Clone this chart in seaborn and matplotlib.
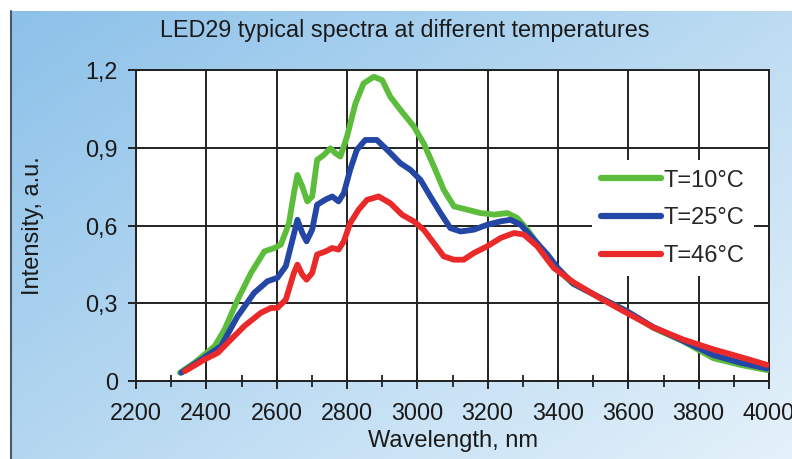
import numpy as np
import pandas as pd
import matplotlib
matplotlib.use("Agg")
import matplotlib.pyplot as plt
import seaborn as sns
from matplotlib.ticker import MultipleLocator, FixedLocator
from matplotlib.lines import Line2D

# ---------------- data ----------------
green_wl = [2325, 2367, 2424, 2452, 2489, 2527, 2565, 2593, 2612, 2635, 2649, 2659, 2673, 2687,
            2701, 2715, 2734, 2753, 2767, 2781, 2800, 2824, 2847, 2876, 2900, 2923, 2952, 2990,
            3018, 3047, 3075, 3104, 3142, 3180, 3218, 3256, 3284, 3313, 3350, 3388, 3443, 3519,
            3595, 3671, 3756, 3842, 3920, 3995]
green_val = [0.032, 0.071, 0.135, 0.199, 0.314, 0.417, 0.50, 0.513, 0.526, 0.609, 0.725, 0.795,
             0.75, 0.693, 0.712, 0.853, 0.872, 0.898, 0.879, 0.866, 0.943, 1.071, 1.148, 1.174,
             1.161, 1.097, 1.046, 0.982, 0.917, 0.828, 0.738, 0.674, 0.661, 0.648, 0.642, 0.648,
             0.629, 0.584, 0.513, 0.443, 0.375, 0.322, 0.27, 0.205, 0.153, 0.088, 0.062, 0.042]

blue_wl = [2329, 2386, 2442, 2489, 2536, 2574, 2602, 2626, 2645, 2659, 2673, 2685, 2701, 2715,
           2739, 2758, 2776, 2791, 2809, 2828, 2852, 2885, 2914, 2952, 2980, 3009, 3037, 3066,
           3094, 3123, 3161, 3199, 3237, 3265, 3294, 3332, 3370, 3400, 3443, 3519, 3595, 3671,
           3756, 3842, 3920, 3995]
blue_val = [0.032, 0.083, 0.135, 0.25, 0.34, 0.385, 0.398, 0.443, 0.545, 0.622, 0.571, 0.539,
            0.584, 0.68, 0.70, 0.712, 0.693, 0.725, 0.815, 0.892, 0.930, 0.930, 0.892, 0.840,
            0.815, 0.776, 0.712, 0.648, 0.590, 0.577, 0.584, 0.603, 0.616, 0.622, 0.603, 0.545,
            0.488, 0.435, 0.376, 0.322, 0.27, 0.208, 0.155, 0.10, 0.07, 0.048]

red_wl = [2339, 2395, 2433, 2461, 2508, 2555, 2584, 2602, 2626, 2649, 2659, 2673, 2685, 2701,
          2715, 2739, 2758, 2776, 2791, 2809, 2833, 2857, 2890, 2923, 2957, 2990, 3018, 3047,
          3075, 3104, 3132, 3161, 3199, 3237, 3275, 3303, 3341, 3388, 3443, 3519, 3595, 3671,
          3756, 3842, 3920, 3995]
red_val = [0.038, 0.083, 0.109, 0.148, 0.212, 0.263, 0.282, 0.282, 0.314, 0.417, 0.449, 0.41,
           0.391, 0.417, 0.488, 0.50, 0.513, 0.507, 0.539, 0.609, 0.661, 0.699, 0.712, 0.686,
           0.641, 0.616, 0.584, 0.532, 0.481, 0.468, 0.468, 0.494, 0.52, 0.552, 0.571, 0.565,
           0.52, 0.436, 0.382, 0.32, 0.263, 0.207, 0.16, 0.122, 0.092, 0.062]

series_labels = ["T=10°C", "T=25°C", "T=46°C"]
series_colors = ["#5cbd3c", "#2447a6", "#ea2a2a"]

x_ticks = [2200, 2400, 2600, 2800, 3000, 3200, 3400, 3600, 3800, 4000]
y_ticks = [0, 0.3, 0.6, 0.9, 1.2]
y_tick_labels = ["0", "0,3", "0,6", "0,9", "1,2"]

title = "LED29 typical spectra at different temperatures"
x_label = "Wavelength, nm"
y_label = "Intensity, a.u."

df = pd.concat([
    pd.DataFrame({"wl": green_wl, "val": green_val, "T": series_labels[0]}),
    pd.DataFrame({"wl": blue_wl, "val": blue_val, "T": series_labels[1]}),
    pd.DataFrame({"wl": red_wl, "val": red_val, "T": series_labels[2]}),
], ignore_index=True)

# ---------------- figure ----------------
sns.set_theme(style="white")
plt.rcParams["font.family"] = ["Liberation Sans", "DejaVu Sans"]

fig = plt.figure(figsize=(7.92, 4.59), dpi=100, facecolor="white")

# background panel with blue gradient
bg = fig.add_axes([10 / 792, 0, 1 - 10 / 792, 1 - 11 / 459], zorder=0)
nx, ny = 200, 120
gx, gy = np.meshgrid(np.linspace(0, 1, nx), np.linspace(0, 1, ny))
t = np.clip(0.55 * gx + 0.45 * gy, 0, 1)
c0 = np.array([0x8c, 0xc1, 0xe9]) / 255
c1 = np.array([0xe4, 0xf1, 0xfa]) / 255
img = c0[None, None, :] * (1 - t[..., None]) + c1[None, None, :] * t[..., None]
bg.imshow(img, aspect="auto", extent=[0, 1, 0, 1], origin="upper")
bg.set_xlim(0, 1)
bg.set_ylim(0, 1)
bg.axis("off")
fig.add_artist(Line2D([10.5 / 792, 10.5 / 792], [0, 1 - 11 / 459], transform=fig.transFigure,
                      color="#4a5a68", linewidth=1.5))

ax = fig.add_axes([136 / 792, (459 - 381) / 459, (769 - 136) / 792, (381 - 70) / 459], zorder=1)
ax.set_facecolor("white")

sns.lineplot(data=df, x="wl", y="val", hue="T", hue_order=series_labels,
             palette=dict(zip(series_labels, series_colors)), sort=False, estimator=None,
             linewidth=4.2, ax=ax, zorder=3)
for ln in ax.get_lines():
    ln.set_solid_joinstyle("round")
    ln.set_solid_capstyle("round")

ax.set_xlim(2200, 4000)
ax.set_ylim(0, 1.2)
ax.xaxis.set_major_locator(FixedLocator(x_ticks))
ax.xaxis.set_minor_locator(MultipleLocator(100))
ax.yaxis.set_major_locator(FixedLocator(y_ticks))
ax.set_yticklabels(y_tick_labels)
ax.grid(True, which="major", color="#222222", linewidth=1.4)
ax.set_axisbelow(True)
for s in ax.spines.values():
    s.set_color("#222222")
    s.set_linewidth(1.4)

ax.tick_params(axis="x", which="major", direction="inout", length=12, width=1.4,
               color="#222222", labelsize=16.8, pad=9, labelcolor="#1a1a1a", bottom=True)
ax.tick_params(axis="x", which="minor", direction="inout", length=8, width=1.3,
               color="#222222", bottom=True)
ax.tick_params(axis="y", which="major", direction="out", length=6, width=1.4,
               color="#222222", labelsize=16.8, pad=7, labelcolor="#1a1a1a", left=True)

ax.set_xlabel(x_label, fontsize=17, color="#1a1a1a", labelpad=4)
ax.set_ylabel(y_label, fontsize=17, color="#1a1a1a", labelpad=30)
fig.text(405 / 792, 1 - 30 / 459, title, ha="center", va="center", fontsize=16.8, color="#1a1a1a")

leg = ax.legend(loc="upper left", bbox_to_anchor=(0.72, 0.71), frameon=True,
                facecolor="white", edgecolor="none", framealpha=1, fontsize=17,
                handlelength=2.55, handletextpad=0.1, labelspacing=0.66,
                borderpad=0.4, borderaxespad=0)
for h in leg.get_lines():
    h.set_linewidth(4.5)
    h.set_solid_capstyle("round")
leg.set_zorder(5)

fig.savefig("out.png", dpi=100, facecolor="white")
